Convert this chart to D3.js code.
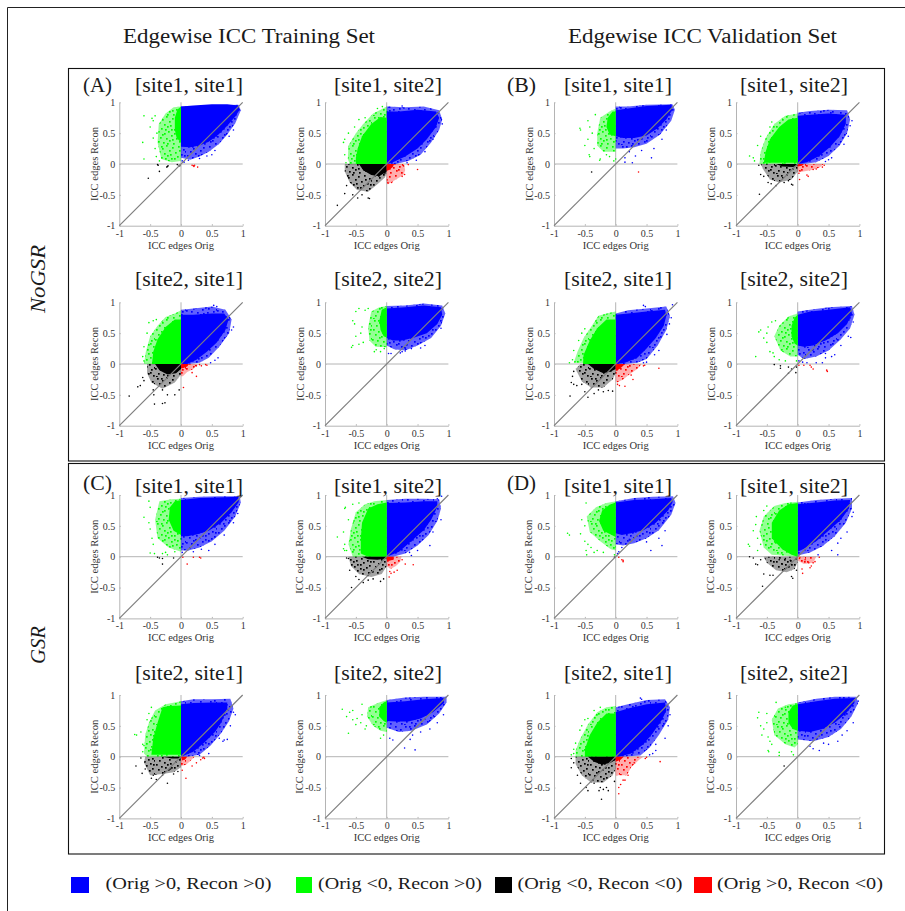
<!DOCTYPE html>
<html><head><meta charset="utf-8">
<script src="https://cdnjs.cloudflare.com/ajax/libs/d3/7.8.5/d3.min.js"></script>
<style>html,body{margin:0;padding:0;background:#fff}svg{display:block}</style></head>
<body><div id="chart"></div>
<script>
// Every series below is [solid region outline, sparse region outline, individually read points],
// all in data units (Orig, Recon). Dense clouds are outlines, not individual points.
const none=[[],[],[]];
const tickValues=[-1,-0.5,0,0.5,1];
const tickLabels=['-1','-0.5','0','0.5','1'];
const columnTitles=['Edgewise ICC Training Set','Edgewise ICC Validation Set'];
const rowTitles=['NoGSR','GSR'];
const groupLetters=['(A)','(B)','(C)','(D)'];
const siteTitles=['[site1, site1]','[site1, site2]','[site2, site1]','[site2, site2]'];
const legendLabels=['(Orig >0, Recon >0)','(Orig <0, Recon >0)','(Orig <0, Recon <0)','(Orig >0, Recon <0)'];
const colors=['#0000ff','#00ff00','#000000','#ff0000'];

const A11_blue=[[[0,.93],[.2,.95],[.5,.97],[.75,.97],[.93,.95],[.95,.88],[.88,.77],[.75,.62],[.6,.47],[.45,.36],[.3,.3],[.15,.27],[0,.28]],
 [[0,.93],[.93,.96],[.97,.87],[.88,.66],[.75,.48],[.62,.33],[.45,.2],[.3,.12],[.15,.07],[0,.1]],
 [[.05,.03],[.02,.05],[.3,.09],[.42,.13],[.55,.22],[.78,.45],[.85,.55],[.5,.15],[.12,.06]]];
const A11_green=[[[0,.93],[-.06,.88],[-.1,.75],[-.1,.55],[-.07,.42],[0,.35]],
 [[0,.93],[-.12,.92],[-.25,.82],[-.36,.65],[-.38,.35],[-.32,.08],[-.15,.03],[0,.05]],
 [[-.6,.78],[-.62,.35],[-.6,.08],[-.47,.74],[-.42,.78],[-.5,.6],[-.45,.42],[-.42,.25],[-.4,.12],[-.35,.05],[-.45,.7],[-.39,.5]]];
const A11_black=[[],[],[[-.38,-.01],[-.22,-.04],[-.23,-.05],[-.35,-.12],[-.53,-.23],[-.03,-.02],[-.02,-.03],[-.06,-.01],[-.37,-.02],[-.21,-.03]]];
const A11_red=[[],[],[[.2,-.03],[.22,-.02],[.27,-.05],[.18,-.02],[.21,-.04]]];

const A12_blue=[[[0,.85],[.2,.85],[.5,.88],[.8,.85],[.85,.75],[.8,.6],[.65,.4],[.5,.25],[.3,.12],[.1,.03],[0,0]],
 [[0,.93],[.3,.92],[.6,.93],[.85,.87],[.9,.72],[.85,.55],[.72,.35],[.55,.15],[.35,.05],[.15,0],[0,0]],
 [[.62,.2],[.75,.4],[.48,.06],[.33,.02],[.9,.65],[.05,.92],[.25,.94]]];
const A12_green=[[[0,.75],[-.1,.76],[-.25,.65],[-.4,.45],[-.47,.25],[-.5,.1],[-.5,0],[0,0]],
 [[0,.93],[-.1,.88],[-.22,.82],[-.38,.65],[-.5,.5],[-.62,.3],[-.63,.08],[-.6,0],[0,0]],
 [[-.68,.4],[-.7,.35],[-.62,.5],[-.52,.6],[-.45,.72],[-.35,.75],[-.15,.9],[-.07,.93],[-.68,.15],[-.66,.02]]];
const A12_black=[[[0,0],[-.45,0],[-.38,-.1],[-.25,-.18],[-.12,-.2],[0,-.12]],
 [[0,0],[-.68,0],[-.68,-.12],[-.6,-.3],[-.48,-.42],[-.3,-.45],[-.15,-.33],[-.03,-.22],[0,-.15]],
 [[-.8,-.67],[-.68,-.48],[-.65,-.35],[-.55,-.5],[-.47,-.55],[-.4,-.5],[-.3,-.55],[-.28,-.56]]];
const A12_red=[[[0,0],[.12,0],[.1,-.05],[.03,-.1],[0,-.1]],
 [[0,0],[.28,0],[.3,-.1],[.27,-.18],[.15,-.25],[.02,-.33],[0,-.3]],
 [[.5,-.09],[.02,-.3],[.08,-.3],[.29,-.17],[.25,-.2],[.35,-.01]]];

const A21_blue=[[[0,.8],[.2,.8],[.5,.82],[.7,.82],[.77,.72],[.72,.55],[.58,.35],[.42,.2],[.25,.07],[.1,0],[0,0]],
 [[0,.88],[.2,.9],[.5,.93],[.72,.88],[.82,.72],[.78,.5],[.62,.28],[.45,.1],[.3,.02],[.1,0],[0,0]],
 [[.53,.95],[.58,.93],[.85,.6],[.6,.1],[.55,.06],[.48,.02],[.82,.55]]];
const A21_green=[[[0,.72],[-.1,.72],[-.25,.6],[-.38,.4],[-.45,.2],[-.47,0],[0,0]],
 [[0,.87],[-.1,.82],[-.25,.76],[-.38,.62],[-.5,.45],[-.57,.2],[-.6,0],[0,0]],
 [[-.52,.67],[-.45,.7],[-.55,.5],[-.6,.28],[-.62,.12],[-.6,.05],[-.4,.72]]];
const A21_black=[[[0,0],[-.42,0],[-.35,-.1],[-.22,-.17],[-.08,-.15],[0,-.08]],
 [[0,0],[-.55,0],[-.55,-.15],[-.48,-.3],[-.3,-.4],[-.1,-.3],[0,-.17]],
 [[-.84,-.52],[-.7,-.37],[-.66,-.35],[-.6,-.27],[-.45,-.42],[-.44,-.5],[-.43,-.65],[-.3,-.64],[-.26,-.63],[-.22,-.5],[-.1,-.5],[-.03,-.42],[-.3,-.42],[-.62,-.22]]];
const A21_red=[[[0,0],[.13,0],[.1,-.04],[.03,-.07],[0,-.07]],
 [[0,0],[.27,0],[.2,-.08],[.1,-.13],[.03,-.2],[0,-.2]],
 [[.04,-.38],[.25,-.2],[.3,-.01],[.25,-.03],[.4,-.01],[.42,-.02],[.33,-.03],[.18,-.14]]];

const A22_blue=[[[0,.9],[.3,.92],[.6,.95],[.88,.92],[.9,.8],[.82,.65],[.65,.5],[.45,.43],[.25,.38],[.1,.38],[0,.42]],
 [[0,.94],[.3,.95],[.6,.98],[.9,.95],[.95,.82],[.88,.62],[.72,.42],[.5,.3],[.3,.22],[.12,.24],[0,.3]],
 [[.22,.18],[.25,.2],[.3,.25],[.3,.21],[.03,.17],[.07,.17],[.88,.58],[.55,.26],[.62,.3],[.4,.25]]];
const A22_green=[[[0,.92],[-.08,.88],[-.12,.7],[-.1,.55],[-.05,.45],[0,.43]],
 [[0,.94],[-.12,.92],[-.25,.85],[-.3,.6],[-.28,.38],[-.18,.28],[0,.27]],
 [[-.55,.3],[-.57,.27],[-.5,.85],[-.45,.9],[-.52,.65],[-.55,.7],[-.4,.6],[-.38,.35],[-.45,.32],[-.35,.87],[-.3,.9],[-.42,.5],[-.2,.2],[-.17,.23],[-.1,.2],[-.04,.25],[-.5,.45]]];

const B11_blue=[[[0,.87],[.2,.9],[.5,.94],[.9,.96],[.92,.88],[.82,.72],[.68,.58],[.5,.46],[.3,.42],[.12,.42],[0,.45]],
 [[0,.93],[.2,.93],[.5,.96],[.92,.97],[.96,.88],[.9,.7],[.72,.48],[.5,.33],[.3,.27],[.12,.25],[0,.25]],
 [[.15,.1],[.32,.13],[.22,.2],[.27,.02],[.58,.1],[.15,.03],[.82,.55],[.62,.25],[.42,.22],[.75,.4]]];
const B11_green=[[[0,.85],[-.05,.85],[-.13,.75],[-.15,.6],[-.1,.48],[0,.45]],
 [[0,.9],[-.1,.85],[-.25,.75],[-.3,.5],[-.3,.3],[-.2,.2],[0,.2]],
 [[-.58,.58],[-.57,.55],[-.45,.7],[-.42,.6],[-.45,.4],[-.5,.3],[-.43,.15],[-.42,.12],[-.25,.08],[-.26,.06],[-.15,.15],[-.03,.05],[0,.08],[-.1,.12],[-.35,.25],[-.38,.5],[-.33,.8]]];
const B11_black=[[],[],[[-.39,-.13]]];
const B11_red=[[],[],[[.37,-.13]]];

const B12_blue=[[[0,.78],[.2,.8],[.5,.82],[.78,.8],[.78,.65],[.68,.45],[.52,.27],[.35,.13],[.15,.03],[0,0]],
 [[0,.83],[.2,.86],[.5,.88],[.8,.87],[.85,.72],[.8,.5],[.68,.3],[.5,.13],[.3,.03],[.1,0],[0,0]],
 [[.85,.62],[.82,.45],[.75,.32],[.55,.1],[.45,.04],[.5,.07],[.88,.7]]];
const B12_green=[[[0,.75],[-.15,.72],[-.3,.6],[-.45,.4],[-.52,.2],[-.55,.02],[0,.02]],
 [[0,.82],[-.2,.78],[-.38,.65],[-.52,.42],[-.6,.2],[-.62,0],[0,0]],
 [[-.72,.1],[-.78,.13],[-.7,.05],[-.65,.3],[-.6,.45],[-.45,.6],[-.42,.68]]];
const B12_black=[[[0,0],[-.35,0],[-.25,-.04],[-.08,-.05],[0,-.03]],
 [[0,0],[-.6,0],[-.55,-.1],[-.45,-.25],[-.3,-.3],[-.1,-.25],[0,-.12]],
 [[-.63,-.02],[-.6,-.17],[-.55,-.2],[-.48,-.3],[-.43,-.32],[-.35,-.35],[-.62,-.49],[-.22,-.3],[-.1,-.33],[-.08,-.34],[-.15,-.27]]];
const B12_red=[[[0,0],[.1,0],[.07,-.03],[0,-.04]],
 [[0,0],[.42,0],[.35,-.06],[.2,-.1],[.05,-.13],[0,-.12]],
 [[.43,-.02],[.4,-.05],[.3,-.08],[.03,-.25],[.17,-.2],[.15,-.18],[.02,-.15],[.25,-.09]]];

const B21_blue=[[[0,.8],[.2,.82],[.5,.85],[.8,.88],[.82,.78],[.78,.62],[.65,.42],[.5,.25],[.35,.1],[.15,.02],[0,0]],
 [[0,.82],[.2,.87],[.5,.9],[.82,.93],[.88,.78],[.82,.55],[.68,.3],[.5,.08],[.35,.02],[.15,0],[0,0]],
 [[.9,.75],[.87,.65],[.83,.48],[.7,.22],[.63,.15],[.5,.03],[.45,.02],[.45,.95],[.48,.93],[.92,.96]]];
const B21_green=[[[0,.72],[-.15,.72],[-.3,.58],[-.42,.38],[-.52,.15],[-.53,0],[0,0]],
 [[0,.85],[-.1,.83],[-.28,.78],[-.4,.6],[-.52,.42],[-.62,.2],[-.68,.02],[0,0]],
 [[-.75,.02],[-.68,.22],[-.6,.38],[-.55,.5],[-.5,.57],[-.52,.1],[-.7,.07]]];
const B21_black=[[[0,0],[-.45,0],[-.35,-.08],[-.2,-.15],[-.08,-.12],[0,-.08]],
 [[0,0],[-.57,0],[-.65,-.08],[-.55,-.28],[-.4,-.38],[-.2,-.38],[-.05,-.25],[0,-.15]],
 [[-.74,-.52],[-.72,-.3],[-.7,-.2],[-.68,-.12],[-.63,-.35],[-.55,-.33],[-.5,-.45],[-.45,-.54],[-.35,-.48],[-.2,-.45],[-.12,-.43],[-.05,-.44],[-.28,-.42],[-.68,-.33]]];
const B21_red=[[[0,0],[.15,0],[.1,-.05],[.03,-.1],[0,-.1]],
 [[0,0],[.42,0],[.35,-.08],[.22,-.17],[.12,-.25],[.02,-.3],[0,-.28]],
 [[.7,-.07],[.45,-.03],[.47,-.02],[.06,-.35],[.15,-.36],[.28,-.25],[.03,-.33],[.25,-.18]]];

const B22_blue=[[[0,.8],[.2,.85],[.5,.88],[.85,.92],[.88,.82],[.8,.65],[.65,.5],[.45,.38],[.25,.3],[.1,.28],[0,.3]],
 [[0,.85],[.2,.88],[.5,.92],[.88,.94],[.92,.8],[.85,.58],[.7,.4],[.5,.22],[.3,.12],[.1,.08],[0,.15]],
 [[.02,.05],[.08,.03],[.3,.02],[.15,.02],[.45,.1],[.55,.12],[.6,.15],[.45,.17],[.86,.43],[.82,.45],[.9,.68],[.7,.3],[.4,.02]]];
const B22_green=[[[0,.8],[-.05,.75],[-.1,.62],[-.1,.45],[-.05,.33],[0,.3]],
 [[0,.82],[-.15,.77],[-.3,.62],[-.38,.45],[-.28,.22],[-.12,.12],[0,.12]],
 [[-.68,.12],[-.63,.52],[-.6,.55],[-.55,.42],[-.5,.35],[-.48,.6],[-.42,.68],[-.45,.2],[-.4,.18],[-.3,.07],[-.2,.05],[-.02,.05],[-.36,.7],[-.5,.5],[-.38,.12]]];
const B22_black=[[],[],[[-.28,-.03],[-.28,-.07],[-.38,-.01],[-.02,-.05],[-.15,-.15],[-.1,-.08],[-.03,-.14],[-.15,-.05]]];
const B22_red=[[],[],[[.02,-.02],[.2,-.02],[.22,-.05],[.25,-.08],[.47,-.1],[.48,-.12],[.1,-.02]]];

const C11_blue=[[[0,.92],[.3,.95],[.6,.96],[.93,.97],[.93,.88],[.82,.72],[.65,.55],[.45,.42],[.25,.36],[.1,.33],[0,.33]],
 [[0,.95],[.3,.97],[.6,.98],[.95,.98],[.97,.88],[.88,.65],[.7,.42],[.5,.25],[.3,.15],[.12,.1],[0,.1]],
 [[.33,.12],[.2,.08],[.02,.07],[.55,.2],[.45,.1],[.7,.35],[.85,.55],[.92,.7]]];
const C11_green=[[[0,.92],[-.1,.9],[-.18,.8],[-.2,.6],[-.12,.42],[0,.35]],
 [[0,.94],[-.15,.93],[-.35,.9],[-.42,.6],[-.38,.3],[-.2,.15],[0,.08]],
 [[-.6,.64],[-.52,.9],[-.5,.8],[-.5,.45],[-.47,.3],[-.45,.2],[-.5,.06],[-.43,.05],[-.3,.05],[-.25,.07],[-.22,.03],[-.1,.08],[-.52,.55]]];
const C11_black=[[],[],[[-.38,-.01],[-.35,-.02],[-.3,-.03],[-.3,-.12],[-.12,-.02]]];
const C11_red=[[],[],[[.1,-.12],[.2,-.01],[.32,-.02],[.3,-.01],[.03,-.01]]];

const C12_blue=[[[0,.87],[.3,.88],[.6,.9],[.82,.9],[.82,.8],[.72,.6],[.6,.43],[.42,.27],[.2,.08],[.05,.02],[0,0]],
 [[0,.92],[.3,.94],[.6,.94],[.85,.93],[.88,.78],[.82,.58],[.68,.35],[.5,.18],[.3,.05],[.1,0],[0,0]],
 [[.89,.98],[.82,.94],[.88,.6],[.75,.4],[.4,.02],[.37,.07],[.5,.1],[.7,.18]]];
const C12_green=[[[0,.88],[-.15,.85],[-.3,.78],[-.4,.55],[-.42,.3],[-.42,.05],[-.3,0],[0,0]],
 [[0,.92],[-.2,.9],[-.35,.85],[-.5,.72],[-.58,.45],[-.62,.2],[-.55,0],[0,0]],
 [[-.67,.8],[-.68,.78],[-.8,.32],[-.7,.4],[-.68,.2],[-.65,.1],[-.62,.6],[-.68,.1],[-.7,.13],[-.55,.85],[-.45,.87]]];
const C12_black=[[[0,0],[-.4,0],[-.3,-.04],[-.15,-.05],[0,-.03]],
 [[0,0],[-.62,0],[-.58,-.15],[-.45,-.28],[-.25,-.33],[-.08,-.28],[0,-.15]],
 [[-.57,-.5],[-.62,-.03],[-.65,-.02],[-.6,-.22],[-.5,-.32],[-.45,-.37],[-.38,-.42],[-.1,-.4],[-.05,-.36],[-.3,-.38],[-.22,-.36]]];
const C12_red=[[[0,0],[.12,0],[.1,-.05],[.03,-.07],[0,-.05]],
 [[0,0],[.24,0],[.22,-.08],[.15,-.15],[.06,-.2],[0,-.15]],
 [[.43,-.13],[.3,-.12],[.04,-.33],[.07,-.27],[.12,-.25],[.17,-.22],[.05,-.24],[.25,-.05]]];

const C21_blue=[[[0,.85],[.2,.87],[.5,.88],[.75,.88],[.75,.78],[.65,.55],[.55,.4],[.38,.23],[.2,.08],[.05,.02],[0,0]],
 [[0,.9],[.2,.93],[.5,.93],[.8,.94],[.85,.78],[.78,.58],[.65,.38],[.48,.18],[.3,.03],[.1,0],[0,0]],
 [[.85,.72],[.88,.68],[.8,.5],[.75,.28],[.7,.27],[.68,.25],[.62,.3],[.45,.05],[.3,.02]]];
const C21_green=[[[0,.83],[-.2,.82],[-.3,.8],[-.38,.55],[-.45,.3],[-.48,.03],[0,.03]],
 [[0,.9],[-.25,.85],[-.42,.75],[-.52,.55],[-.58,.35],[-.6,.05],[-.55,0],[0,0]],
 [[-.72,.35],[-.75,.36],[-.65,.4],[-.55,.6],[-.52,.7],[-.48,.8],[-.62,.2],[-.6,.18],[-.62,.08]]];
const C21_black=[[[0,0],[-.3,0],[-.15,-.03],[0,-.03]],
 [[0,0],[-.58,0],[-.6,-.1],[-.5,-.3],[-.3,-.28],[-.12,-.25],[0,-.17]],
 [[-.65,-.02],[-.73,-.15],[-.63,-.27],[-.58,-.2],[-.48,-.35],[-.45,-.3],[-.4,-.37],[-.22,-.43],[-.3,-.3],[-.17,-.2],[-.05,-.24],[-.12,-.28]]];
const C21_red=[[[0,0],[.1,0],[.07,-.04],[.02,-.06]],
 [[0,0],[.22,0],[.15,-.07],[.08,-.13],[0,-.15]],
 [[.38,-.03],[.37,-.01],[.32,-.05],[.08,-.35],[.02,-.22],[.18,-.15],[.25,-.1],[.35,-.02]]];

const C22_blue=[[[0,.88],[.3,.9],[.6,.93],[.92,.95],[.93,.87],[.75,.72],[.55,.62],[.35,.57],[.15,.57],[0,.58]],
 [[0,.92],[.3,.96],[.6,.97],[.97,.97],[.97,.88],[.85,.7],[.65,.52],[.4,.42],[.2,.4],[0,.47]],
 [[.29,.14],[.46,.11],[.05,.3],[.1,.27],[.42,.35],[.38,.28],[.7,.45],[.82,.55],[.92,.68],[.55,.4]]];
const C22_green=[[[0,.9],[-.05,.88],[-.12,.8],[-.12,.65],[-.05,.58],[0,.55]],
 [[0,.92],[-.12,.88],[-.3,.8],[-.32,.65],[-.22,.5],[-.1,.42],[0,.4]],
 [[-.72,.77],[-.65,.65],[-.62,.38],[-.6,.72],[-.55,.75],[-.55,.6],[-.5,.52],[-.48,.62],[-.4,.68],[-.35,.45],[-.33,.5],[-.1,.3],[-.05,.35],[-.4,.85],[-.42,.55]]];

const D11_blue=[[[0,.88],[.3,.92],[.6,.93],[.9,.95],[.92,.88],[.85,.75],[.65,.55],[.45,.43],[.25,.38],[.1,.35],[0,.38]],
 [[0,.9],[.3,.95],[.6,.97],[.93,.98],[.97,.87],[.9,.68],[.7,.43],[.5,.3],[.3,.22],[.12,.18],[0,.2]],
 [[.75,.18],[.22,.28],[.7,.3],[.8,.42],[.05,.08],[.03,.05],[.5,.24],[.57,.1],[.1,.15]]];
const D11_green=[[[0,.88],[-.1,.84],[-.22,.75],[-.27,.58],[-.2,.42],[0,.32]],
 [[0,.9],[-.15,.87],[-.32,.8],[-.47,.65],[-.42,.4],[-.25,.25],[-.08,.12],[0,.1]],
 [[-.78,.38],[-.75,.35],[-.57,.37],[-.5,.25],[-.47,.03],[-.48,.1],[-.48,.87],[-.55,.6],[-.5,.5],[-.3,.1],[-.35,.07],[-.2,.07],[-.02,.03],[-.45,.2],[-.4,.15]]];
const D11_black=[[],[],[[-.02,-.01]]];
const D11_red=[[],[],[[.12,-.08],[.1,-.05],[.12,-.06],[.05,-.01]]];

const D12_blue=[[[0,.85],[.3,.88],[.6,.91],[.85,.92],[.83,.78],[.7,.6],[.5,.42],[.3,.25],[.1,.13],[0,.08]],
 [[0,.88],[.3,.92],[.6,.94],[.88,.95],[.88,.78],[.78,.55],[.6,.33],[.4,.17],[.2,.07],[.05,.03],[0,.02]],
 [[.65,.03],[.55,.1],[.65,.22],[.8,.4],[.88,.65],[.7,.3],[.33,.03],[.9,.72]]];
const D12_green=[[[0,.87],[-.15,.85],[-.3,.75],[-.42,.55],[-.42,.3],[-.25,.12],[-.1,.03],[0,0]],
 [[0,.89],[-.2,.87],[-.38,.82],[-.55,.65],[-.62,.42],[-.55,.15],[-.42,.03],[0,0]],
 [[-.68,.52],[-.67,.65],[-.72,.42],[-.65,.3],[-.6,.2],[-.55,.75],[-.8,.2],[-.78,.17],[-.65,.1],[-.5,.82]]];
const D12_black=[[],
 [[0,0],[-.55,0],[-.5,-.1],[-.35,-.22],[-.18,-.25],[-.05,-.2],[0,-.08]],
 [[-.78,0],[-.72,-.02],[-.68,-.12],[-.65,-.13],[-.6,-.05],[-.55,-.28],[-.57,-.48],[-.45,-.3],[-.4,-.3],[-.1,-.32],[-.08,-.35],[-.02,-.22],[-.3,-.05],[-.2,-.03],[-.12,-.06],[-.25,-.12],[-.18,-.18]]];
const D12_red=[[],
 [[0,0],[.3,0],[.25,-.1],[.1,-.12],[0,-.06]],
 [[.35,-.01],[.08,-.27],[.07,-.2],[.2,-.18],[.22,-.15],[.25,-.1],[.28,-.08],[.18,-.1],[.12,-.05],[.03,-.03]]];

const D21_blue=[[[0,.72],[.2,.78],[.5,.85],[.8,.88],[.82,.75],[.75,.6],[.6,.38],[.45,.2],[.25,.05],[.05,0],[0,0]],
 [[0,.8],[.2,.85],[.5,.92],[.8,.93],[.88,.8],[.85,.6],[.7,.35],[.55,.15],[.4,.02],[.1,0],[0,0]],
 [[.4,.95],[.42,.93],[.88,.68],[.85,.5],[.8,.3],[.65,.2],[.65,.1],[.6,.05],[.55,.03]]];
const D21_green=[[[0,.7],[-.15,.7],[-.3,.55],[-.42,.35],[-.5,.12],[-.5,0],[0,0]],
 [[0,.82],[-.15,.8],[-.3,.72],[-.45,.52],[-.57,.3],[-.65,.1],[-.65,0],[0,0]],
 [[-.72,.03],[-.68,.12],[-.65,.22],[-.58,.43],[-.55,.5],[-.5,.6],[-.45,.62],[-.35,.75],[-.25,.8],[-.68,.05]]];
const D21_black=[[[0,0],[-.45,0],[-.35,-.08],[-.22,-.13],[-.08,-.1],[0,-.05]],
 [[0,0],[-.65,0],[-.65,-.12],[-.55,-.3],[-.4,-.42],[-.2,-.42],[-.05,-.3],[0,-.2]],
 [[-.72,-.03],[-.72,-.18],[-.62,-.3],[-.57,-.43],[-.48,-.5],[-.45,-.55],[-.35,-.43],[-.27,-.55],[-.23,-.69],[-.2,-.53],[-.12,-.55],[-.15,-.5],[-.02,-.4],[-.68,-.1],[-.25,-.5]]];
const D21_red=[[[0,0],[.13,0],[.08,-.05],[0,-.08]],
 [[0,0],[.45,0],[.38,-.05],[.25,-.17],[.18,-.3],[.08,-.3],[0,-.3]],
 [[.72,-.08],[.5,-.01],[.48,-.03],[.05,-.6],[.05,-.5],[.08,-.45],[.12,-.38],[.2,-.3],[.15,-.38],[.3,-.1]]];

const D22_blue=[[[0,.85],[.3,.9],[.6,.94],[.92,.95],[.92,.87],[.78,.7],[.6,.55],[.4,.45],[.2,.4],[0,.42]],
 [[0,.88],[.3,.94],[.6,.97],[.95,.97],[.98,.87],[.87,.65],[.7,.45],[.5,.32],[.25,.25],[0,.28]],
 [[.25,.13],[.2,.17],[.42,.22],[.5,.2],[.65,.25],[.8,.42],[.72,.35],[.9,.55],[.98,.9],[.35,.1]]];
const D22_green=[[[0,.85],[-.08,.83],[-.15,.72],[-.15,.55],[-.08,.45],[0,.42]],
 [[0,.87],[-.15,.85],[-.32,.78],[-.42,.6],[-.38,.35],[-.2,.2],[-.05,.15],[0,.2]],
 [[-.63,.72],[-.65,.63],[-.6,.5],[-.58,.35],[-.55,.45],[-.5,.7],[-.48,.32],[-.42,.2],[-.47,.08],[-.48,.1],[-.3,.07],[-.3,.02],[-.1,.08],[-.07,.03],[-.2,.8],[-.5,.55],[-.45,.25],[-.35,.88]]];
const D22_black=[[],[],[[-.22,-.15]]];

// Panels in reading order per group, with series drawn blue, green, black, red.
const panelSeries=[
 [[A11_blue,A11_green,A11_black,A11_red],[A12_blue,A12_green,A12_black,A12_red],[A21_blue,A21_green,A21_black,A21_red],[A22_blue,A22_green,none,none]],
 [[B11_blue,B11_green,B11_black,B11_red],[B12_blue,B12_green,B12_black,B12_red],[B21_blue,B21_green,B21_black,B21_red],[B22_blue,B22_green,B22_black,B22_red]],
 [[C11_blue,C11_green,C11_black,C11_red],[C12_blue,C12_green,C12_black,C12_red],[C21_blue,C21_green,C21_black,C21_red],[C22_blue,C22_green,none,none]],
 [[D11_blue,D11_green,D11_black,D11_red],[D12_blue,D12_green,D12_black,D12_red],[D21_blue,D21_green,D21_black,D21_red],[D22_blue,D22_green,D22_black,none]]
];

// Layout
const W=905,H=911,SERIF='"Liberation Serif",serif';
const groupCols=[[119.3,325],[554,736]];
const groupRows=[[102.3,302.3],[495,695]];
const plotSize=123.4;
const svg=d3.select('#chart').append('svg').attr('width',W).attr('height',H).attr('viewBox',[0,0,W,H]);
svg.append('rect').attr('width',W).attr('height',H).attr('fill','#fff');

// Hand-placed, irregular speckle tile used to texture the sparse part of each cloud (a fill style, not data).
const speckle=[[2,1],[7,3],[11,0],[17,2],[23,1],[28,4],[4,6],[9,8],[14,5],[20,7],[26,9],[30,6],[1,10],[6,12],[12,10],[16,13],[22,11],[28,14],[3,15],[9,17],[13,15],[19,17],[25,16],[30,19],[0,20],[5,21],[11,22],[16,19],[21,22],[27,21],[3,25],[8,26],[14,24],[18,27],[24,25],[29,27],[6,1],[15,9],[24,5],[19,13],[7,18],[26,24],[12,27],[1,28],[10,13],[29,10],[22,18],[17,23]];
const underlay=[.62,.42,.36,.32];
const defs=svg.append('defs');
const soft=defs.append('filter').attr('id','soft').attr('x','-5%').attr('y','-5%').attr('width','110%').attr('height','110%');
soft.append('feGaussianBlur').attr('stdDeviation',.45);
colors.forEach((c,i)=>{
  const p=defs.append('pattern').attr('id','sp'+i).attr('patternUnits','userSpaceOnUse').attr('width',31).attr('height',29);
  p.append('rect').attr('width',31).attr('height',29).attr('fill',c).attr('opacity',underlay[i]);
  p.selectAll('rect.s').data(speckle).join('rect').attr('class','s').attr('x',d=>d[0]).attr('y',d=>d[1]).attr('width',1.7).attr('height',1.7).attr('fill',c);
});

// Outer page frame and group boxes
svg.append('path').attr('d','M7.5,911V7.5H905').attr('fill','none').attr('stroke','#222').attr('stroke-width',1);
[[68.5,68.5,816,392.5],[68.5,463.5,816,390.5]].forEach(b=>svg.append('rect').attr('x',b[0]).attr('y',b[1]).attr('width',b[2]).attr('height',b[3]).attr('fill','none').attr('stroke','#111').attr('stroke-width',1.1));

function txt(x,y,s,size,w,opts={}){
  const t=svg.append('text').attr('x',x).attr('y',y).text(s).attr('font-family',SERIF).attr('font-size',size).attr('fill',opts.fill||'#1a1a1a');
  if(w){t.attr('textLength',w).attr('lengthAdjust','spacingAndGlyphs');}
  if(opts.italic)t.attr('font-style','italic');
  if(opts.anchor)t.attr('text-anchor',opts.anchor);
  if(opts.rotate)t.attr('transform',`rotate(-90 ${x} ${y})`);
  return t;
}
txt(123,42.5,columnTitles[0],20,252);
txt(568,42.5,columnTitles[1],20,269);
txt(45,279,rowTitles[0],22,68,{italic:true,rotate:true,anchor:'middle'});
txt(45,645,rowTitles[1],22,38,{italic:true,rotate:true,anchor:'middle'});

const letterX=[83,507,83,507];
const letterY=[92,92,489.5,489.5];
groupLetters.forEach((l,i)=>txt(letterX[i],letterY[i],l,21,29));

const polyLine=d3.line().curve(d3.curveLinearClosed);
panelSeries.forEach((group,g)=>{
  const cols=groupCols[g%2], rows=groupRows[g<2?0:1];
  group.forEach((series,p)=>{
    const x0=cols[p%2], y0=rows[p<2?0:1];
    const x=d3.scaleLinear().domain([-1,1]).range([x0,x0+plotSize]);
    const y=d3.scaleLinear().domain([-1,1]).range([y0+plotSize,y0]);
    const gp=svg.append('g');
    // axis cross lines under the clouds
    gp.append('line').attr('x1',x(0)).attr('x2',x(0)).attr('y1',y(-1)).attr('y2',y(1)).attr('stroke','#b4b4b4').attr('stroke-width',1);
    gp.append('line').attr('x1',x(-1)).attr('x2',x(1)).attr('y1',y(0)).attr('y2',y(0)).attr('stroke','#b4b4b4').attr('stroke-width',1);
    const toPx=pts=>pts.map(d=>[x(d[0]),y(d[1])]);
    const cloud=gp.append('g').attr('filter','url(#soft)');
    series.forEach((s,c)=>{
      const [core,halo,dots]=s;
      if(halo.length)cloud.append('path').attr('d',polyLine(toPx(halo))).attr('fill',`url(#sp${c})`);
      if(core.length)cloud.append('path').attr('d',polyLine(toPx(core))).attr('fill',colors[c]);
      cloud.selectAll(null).data(dots).join('circle').attr('cx',d=>x(d[0])).attr('cy',d=>y(d[1])).attr('r',.8).attr('fill',colors[c]);
    });
    // axes
    const fmt=d=>tickLabels[tickValues.indexOf(d)];
    const ax=gp.append('g').attr('transform',`translate(0,${y(-1)})`).call(d3.axisBottom(x).tickValues(tickValues).tickFormat(fmt).tickSizeInner(-1.5).tickSizeOuter(0).tickPadding(4));
    const ay=gp.append('g').attr('transform',`translate(${x(-1)},0)`).call(d3.axisLeft(y).tickValues(tickValues).tickFormat(fmt).tickSizeInner(-1.5).tickSizeOuter(0).tickPadding(4));
    [ax,ay].forEach(a=>{
      a.select('.domain').attr('stroke','#b4b4b4');
      a.selectAll('.tick line').attr('stroke','#b4b4b4');
      a.selectAll('text').attr('font-family',SERIF).attr('font-size',10).attr('fill','#333');
    });
    // identity line on top
    gp.append('line').attr('x1',x(-1)).attr('y1',y(-1)).attr('x2',x(1)).attr('y2',y(1)).attr('stroke','#7f7f7f').attr('stroke-width',1.2);
    // labels
    txt(x(0),y(-1)+23,'ICC edges Orig',11,66,{anchor:'middle',fill:'#333'});
    txt(x(-1)-21.5,y(0),'ICC edges Recon',11,74,{anchor:'middle',fill:'#333',rotate:true});
    const titleY=[92,286,493,680];
    const titleX=[[135,334],[564,740]];
    txt(titleX[g%2][p%2],titleY[(g<2?0:2)+(p<2?0:1)],siteTitles[p],22,108);
  });
});

// Legend
const legX=[71,296,495,694], legW=[18,16,17,18];
const legTextX=[105.5,318,517.5,717], legTextW=[166,164,165,166];
legendLabels.forEach((l,i)=>{
  svg.append('rect').attr('x',legX[i]).attr('y',877).attr('width',legW[i]).attr('height',16).attr('fill',colors[i]);
  txt(legTextX[i],889,l,17.5,legTextW[i]);
});
</script></body></html>
